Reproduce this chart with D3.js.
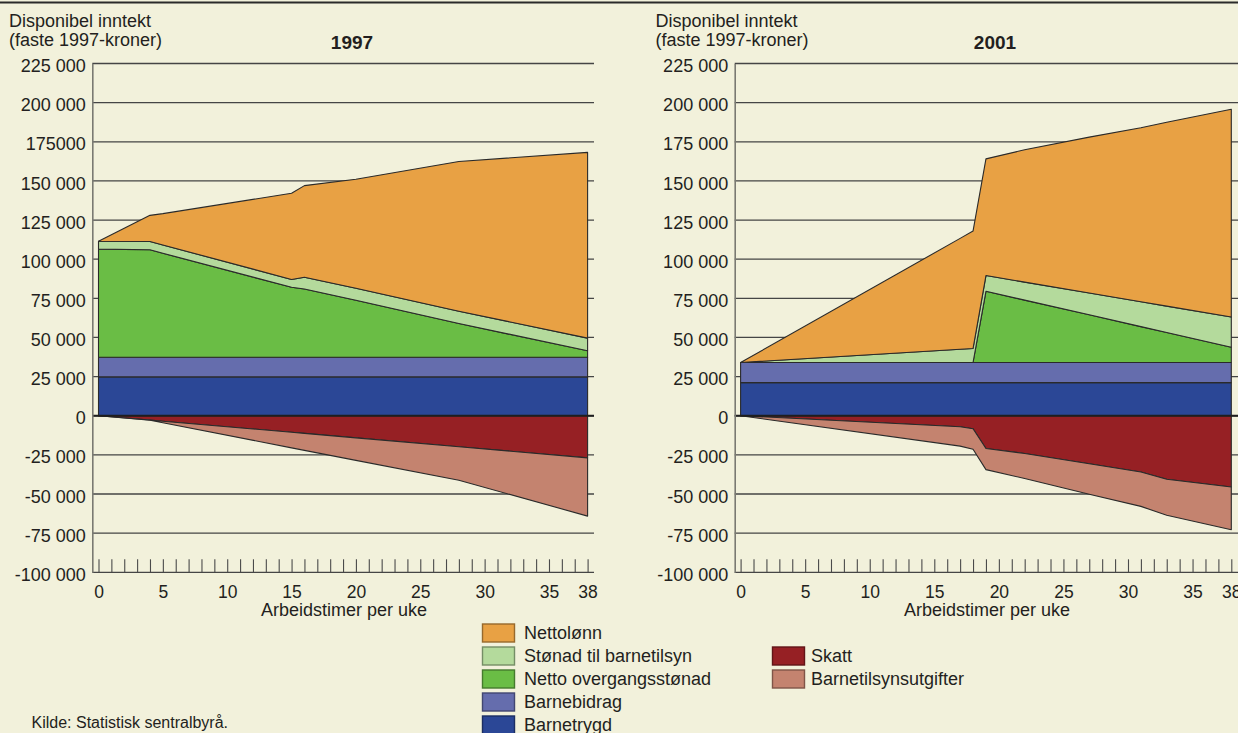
<!DOCTYPE html>
<html>
<head>
<meta charset="utf-8">
<script src="https://cdn.jsdelivr.net/npm/d3@7"></script>
<style>
  html, body { margin: 0; padding: 0; background: #F2F1DB; }
  svg { display: block; font-family: "Liberation Sans", Arial, sans-serif; }
</style>
</head>
<body>
<script>
// --- data (kroner per year) ---
const yTicks = [-100000, -75000, -50000, -25000, 0, 25000, 50000, 75000, 100000, 125000, 150000, 175000, 200000, 225000];
const yLabels1997 = ["-100 000", "-75 000", "-50 000", "-25 000", "0", "25 000", "50 000", "75 000", "100 000", "125 000", "150 000", "175000", "200 000", "225 000"];
const yLabels2001 = ["-100 000", "-75 000", "-50 000", "-25 000", "0", "25 000", "50 000", "75 000", "100 000", "125 000", "150 000", "175 000", "200 000", "225 000"];
const xLabelHours = [0, 5, 10, 15, 20, 25, 30, 35, 38];

const hours1997 = [0, 4, 5, 15, 16, 20, 28, 38];
const barnetrygd1997 = [24800, 24800, 24800, 24800, 24800, 24800, 24800, 24800];
const barnebidrag1997 = [12600, 12600, 12600, 12600, 12600, 12600, 12600, 12600];
const overgang1997 = [69000, 68600, 66400, 44650, 43600, 36400, 21500, 4100];
const stonad1997 = [5100, 5300, 5300, 5000, 7500, 7600, 7900, 8100];
const nettolonn1997 = [0, 16700, 20000, 55050, 58500, 69700, 95600, 118600];
const skatt1997 = [0, -2760, -3470, -10570, -11280, -14120, -19800, -26900];
const utgifter1997 = [0, -140, -1030, -9930, -10820, -14380, -21400, -37200];

const hours2001 = [0, 17, 18, 19, 22, 27, 31, 33, 38];
const barnetrygd2001 = [21150, 21150, 21150, 21150, 21150, 21150, 21150, 21150, 21150];
const barnebidrag2001 = [12850, 12850, 12850, 12850, 12850, 12850, 12850, 12850, 12850];
const overgang2001 = [0, 0, 0, 45500, 39860, 30470, 22950, 19200, 9800];
const stonad2001 = [0, 8450, 8950, 10050, 11500, 13920, 15860, 16820, 19250];
const nettolonn2001 = [0, 70840, 75000, 74550, 84530, 99600, 111190, 117480, 132750];
const skatt2001 = [0, -7050, -8330, -20900, -24100, -30660, -35900, -40600, -45500];
const utgifter2001 = [0, -12350, -13020, -13500, -16000, -19500, -22000, -23000, -27300];

const seriesNames = {
  nettolonn: "Nettolønn",
  stonad: "Stønad til barnetilsyn",
  overgang: "Netto overgangsstønad",
  barnebidrag: "Barnebidrag",
  barnetrygd: "Barnetrygd",
  skatt: "Skatt",
  utgifter: "Barnetilsynsutgifter"
};
const colors = {
  nettolonn: "#E8A144",
  stonad: "#B4DA9C",
  overgang: "#6ABD45",
  barnebidrag: "#656DAD",
  barnetrygd: "#2B4796",
  skatt: "#962024",
  utgifter: "#C4836F"
};
const posKeys = ["barnetrygd", "barnebidrag", "overgang", "stonad", "nettolonn"];
const negKeys = ["skatt", "utgifter"];

const width = 1238, height = 733;
const yTop = 63.5, yBottom = 572.3;

const svg = d3.select("body").append("svg")
  .attr("width", width)
  .attr("height", height);

svg.append("rect").attr("width", width).attr("height", height).attr("fill", "#F2F1DB");

// top rule
svg.append("line")
  .attr("x1", 0).attr("x2", width).attr("y1", 2.5).attr("y2", 2.5)
  .attr("stroke", "#2a2a2a").attr("stroke-width", 2);

function buildRows(hours, cols) {
  return hours.map((h, i) => {
    const row = { h: h };
    Object.keys(cols).forEach(k => { row[k] = cols[k][i]; });
    return row;
  });
}

function drawPanel(cfg) {
  const x = d3.scaleLinear().domain([0, 38]).range([cfg.x0, cfg.x1]);
  const y = d3.scaleLinear().domain([-100000, 225000]).range([yBottom, yTop]);
  const g = svg.append("g");

  // header texts
  const head = g.append("text")
    .attr("x", cfg.headX)
    .attr("y", 27)
    .style("font-size", "18px")
    .attr("fill", "#231f20");
  head.append("tspan").attr("x", cfg.headX).text("Disponibel inntekt");
  head.append("tspan").attr("x", cfg.headX).attr("dy", 18.5).text("(faste 1997-kroner)");

  g.append("text")
    .attr("x", cfg.titleX)
    .attr("y", 48.5)
    .attr("text-anchor", "middle")
    .style("font-size", "19px")
    .style("font-weight", "bold")
    .attr("fill", "#231f20")
    .text(cfg.title);

  // grid lines
  g.append("g")
    .selectAll("line")
    .data(yTicks)
    .enter()
    .append("line")
    .attr("x1", cfg.axisX)
    .attr("x2", cfg.gridEnd)
    .attr("y1", d => y(d))
    .attr("y2", d => y(d))
    .attr("stroke", "#454545")
    .attr("stroke-width", 1.3);

  // stacked areas
  const pos = d3.stack().keys(posKeys)(cfg.rows);
  const neg = d3.stack().keys(negKeys)(cfg.rows);
  const area = d3.area()
    .x(d => x(d.data.h))
    .y0(d => y(d[0]))
    .y1(d => y(d[1]));

  g.append("g")
    .selectAll("path")
    .data(pos.concat(neg))
    .enter()
    .append("path")
    .attr("d", area)
    .attr("fill", d => colors[d.key])
    .attr("stroke", "#2a2a2a")
    .attr("stroke-width", 1.1)
    .attr("stroke-linejoin", "round");

  // zero line
  g.append("line")
    .attr("x1", cfg.axisX)
    .attr("x2", cfg.gridEnd)
    .attr("y1", y(0))
    .attr("y2", y(0))
    .attr("stroke", "#1e1e1e")
    .attr("stroke-width", 2);

  // y axis
  const yAxis = g.append("g")
    .attr("transform", "translate(" + cfg.axisX + ",0)")
    .call(d3.axisLeft(y)
      .tickValues(yTicks)
      .tickSize(0)
      .tickSizeOuter(0)
      .tickPadding(6.5)
      .tickFormat((d, i) => cfg.yLabels[i]));
  yAxis.select(".domain").attr("stroke", "#7a7a72").attr("stroke-width", 1.6);
  yAxis.selectAll("text")
    .attr("dy", "0.45em")
    .style("font-size", "18px")
    .style("font-family", "'Liberation Sans', Arial, sans-serif")
    .attr("fill", "#231f20");

  // x axis: hour ticks pointing up from the bottom line
  const xAxis = g.append("g")
    .attr("transform", "translate(0," + yBottom + ")")
    .call(d3.axisBottom(x)
      .tickValues(d3.range(0, 39))
      .tickSize(-13)
      .tickSizeOuter(0)
      .tickPadding(13)
      .tickFormat(d => xLabelHours.includes(d) ? d : ""));
  xAxis.select(".domain").remove();
  xAxis.selectAll(".tick line").attr("stroke", "#4a4a4a").attr("stroke-width", 1.1);
  xAxis.selectAll("text")
    .style("font-size", "17.5px")
    .style("font-family", "'Liberation Sans', Arial, sans-serif")
    .attr("fill", "#231f20");

  g.append("text")
    .attr("x", cfg.xTitleX)
    .attr("y", 616)
    .attr("text-anchor", "middle")
    .style("font-size", "18px")
    .attr("fill", "#231f20")
    .text("Arbeidstimer per uke");
}

drawPanel({
  title: "1997",
  titleX: 352,
  headX: 9,
  axisX: 92.3,
  x0: 98.5,
  x1: 587.6,
  gridEnd: 594,
  xTitleX: 344,
  yLabels: yLabels1997,
  rows: buildRows(hours1997, {
    barnetrygd: barnetrygd1997, barnebidrag: barnebidrag1997, overgang: overgang1997,
    stonad: stonad1997, nettolonn: nettolonn1997, skatt: skatt1997, utgifter: utgifter1997
  })
});

drawPanel({
  title: "2001",
  titleX: 995,
  headX: 655.5,
  axisX: 734.7,
  x0: 740.6,
  x1: 1231.3,
  gridEnd: 1238,
  xTitleX: 987,
  yLabels: yLabels2001,
  rows: buildRows(hours2001, {
    barnetrygd: barnetrygd2001, barnebidrag: barnebidrag2001, overgang: overgang2001,
    stonad: stonad2001, nettolonn: nettolonn2001, skatt: skatt2001, utgifter: utgifter2001
  })
});

// legend
const legendCol1 = ["nettolonn", "stonad", "overgang", "barnebidrag", "barnetrygd"];
const legendCol2 = ["skatt", "utgifter"];

function addLegend(keys, sx, tx, firstRow) {
  const items = svg.append("g")
    .selectAll("g")
    .data(keys)
    .enter()
    .append("g")
    .attr("transform", (d, i) => "translate(0," + (624 + (firstRow + i) * 23) + ")");
  items.append("rect")
    .attr("x", sx)
    .attr("y", 0)
    .attr("width", 32)
    .attr("height", 18)
    .attr("fill", d => colors[d])
    .attr("stroke", d => d3.color(colors[d]).darker(1.2))
    .attr("stroke-width", 1.4);
  items.append("text")
    .attr("x", tx)
    .attr("y", 15.3)
    .style("font-size", "18px")
    .attr("fill", "#231f20")
    .text(d => seriesNames[d]);
}
addLegend(legendCol1, 482.5, 524, 0);
addLegend(legendCol2, 772.5, 811, 1);

svg.append("text")
  .attr("x", 31.5)
  .attr("y", 728)
  .style("font-size", "16px")
  .attr("fill", "#231f20")
  .text("Kilde: Statistisk sentralbyrå.");
</script>
</body>
</html>
